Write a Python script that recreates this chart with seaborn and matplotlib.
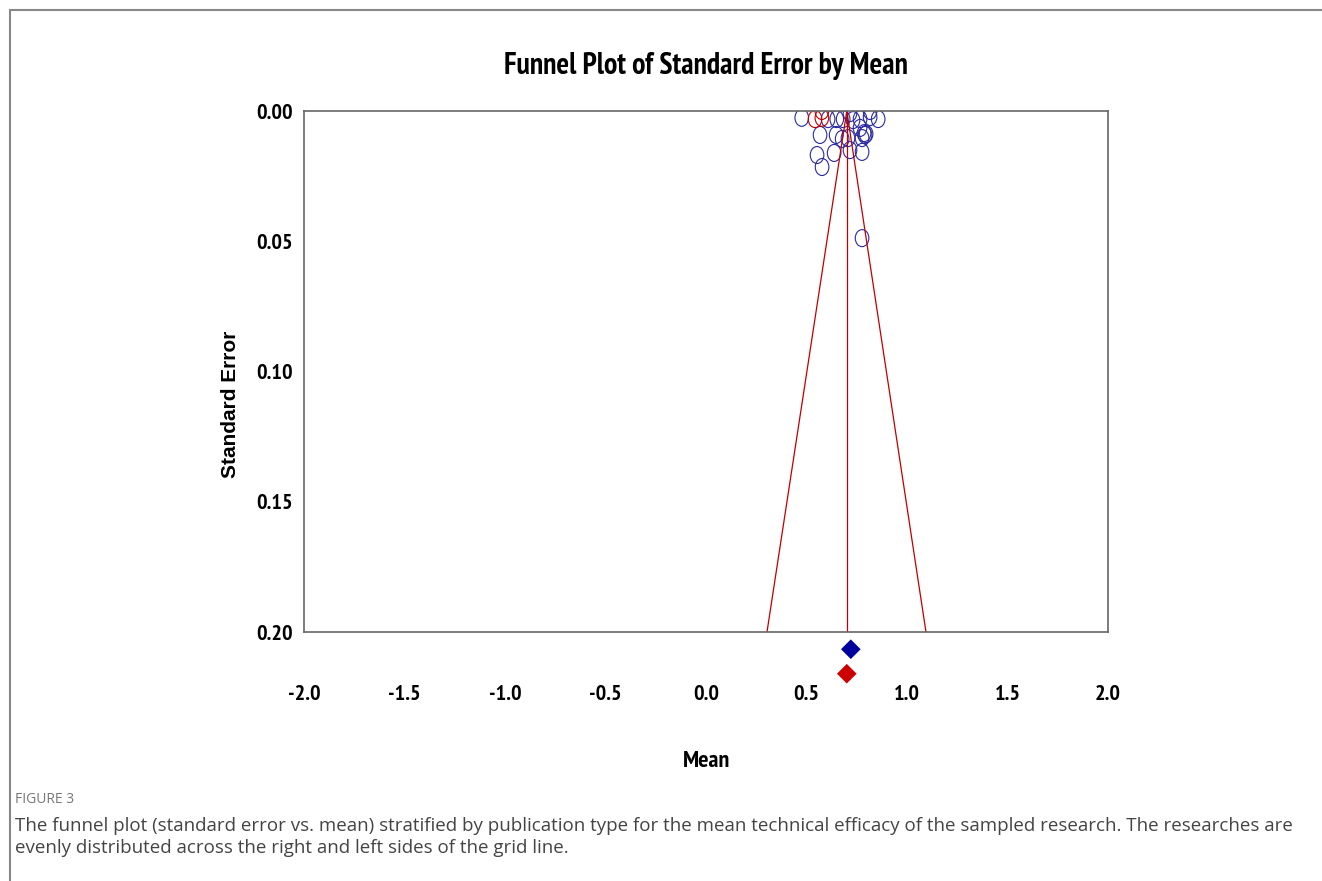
import matplotlib
matplotlib.use("Agg")
import matplotlib.pyplot as plt
from matplotlib.lines import Line2D
from matplotlib.path import Path
import numpy as np
import pandas as pd
import seaborn as sns

# studies: mean effect and standard error
blue_mean = [0.476, 0.607, 0.650, 0.682, 0.716, 0.731, 0.766, 0.816, 0.816, 0.856,
             0.567, 0.647, 0.677, 0.706, 0.766, 0.786, 0.791, 0.796, 0.776,
             0.552, 0.577, 0.637, 0.716, 0.776, 0.776]
blue_se = [0.0026, 0.0031, 0.0031, 0.0031, 0.0008, 0.0035, 0.0031, 0.0000, 0.0023, 0.0031,
           0.0092, 0.0092, 0.0107, 0.0104, 0.0065, 0.0085, 0.0092, 0.0088, 0.0104,
           0.0169, 0.0215, 0.0161, 0.0150, 0.0157, 0.0488]
red_mean = [0.542, 0.576, 0.576]
red_se = [0.0031, 0.0000, 0.0026]

# funnel (pooled mean and 95% limits)
funnel_mean = [0.303, 0.700, 1.094]
funnel_se = [0.200, 0.000, 0.200]
pooled_mean = 0.700

# summary diamonds below the axis
summary_mean = [0.720, 0.700]
summary_se = [0.2066, 0.2160]
summary_group = ["blue", "red"]

colors = {"blue": "#2a2aa0", "red": "#c00000"}
diamond_colors = {"blue": "#00009c", "red": "#cc0000"}

df = pd.DataFrame({
    "mean": blue_mean + red_mean,
    "se": blue_se + red_se,
    "group": ["blue"] * len(blue_mean) + ["red"] * len(red_mean),
})
summary = pd.DataFrame({"mean": summary_mean, "se": summary_se, "group": summary_group})

sns.set_style("white")
narrow = ["PT Sans Narrow", "Roboto Condensed", "Barlow Condensed", "DejaVu Sans"]
plt.rcParams["font.family"] = narrow
plt.rcParams["text.color"] = "black"
plt.rcParams["xtick.color"] = "black"
plt.rcParams["ytick.color"] = "black"
plt.rcParams["axes.labelcolor"] = "black"

fig = plt.figure(figsize=(13.22, 8.81), dpi=100)
ax = fig.add_axes([0.2300, 0.2826, 0.6082, 0.5914])

# vertically stretched circle marker
circ = Path.unit_circle()
ellipse = Path(circ.vertices * np.array([0.8, 1.0]), circ.codes)

sns.lineplot(x=funnel_mean, y=funnel_se, sort=False, color="#c00000", lw=0.9, ax=ax)
ax.plot([pooled_mean, pooled_mean], [0, 0.2], color="#c00000", lw=0.9)

sns.scatterplot(data=df, x="mean", y="se", hue="group", palette=colors, marker=ellipse,
                s=150, linewidth=0.8, legend=False, ax=ax)
for c in ax.collections:
    c.set_facecolor("none")
    c.set_edgecolor([colors[g] for g in df["group"]])

sns.scatterplot(data=summary, x="mean", y="se", hue="group", palette=diamond_colors,
                marker="D", s=100, linewidth=0, legend=False, ax=ax, clip_on=False)

ax.set_xlim(-2.0, 2.0)
ax.set_ylim(0.2, 0.0)
ax.set_xticks(np.arange(-2.0, 2.01, 0.5))
ax.set_xticklabels([f"{v:.1f}" for v in np.arange(-2.0, 2.01, 0.5)])
ax.set_yticks([0.0, 0.05, 0.10, 0.15, 0.20])
ax.set_yticklabels(["0.00", "0.05", "0.10", "0.15", "0.20"])
ax.tick_params(axis="x", direction="inout", length=8, width=0.9, color="#666666",
               pad=34, labelsize=16)
ax.tick_params(axis="y", length=0, pad=8, labelsize=16)
for lab in ax.get_xticklabels() + ax.get_yticklabels():
    lab.set_fontweight("bold")
for sp in ax.spines.values():
    sp.set_color("#666666")
    sp.set_linewidth(1.2)

ax.set_xlabel("Mean", fontsize=17.5, fontweight="bold", labelpad=34)
ax.set_ylabel("Standard Error", fontsize=15, fontweight="bold",
              family=["Liberation Sans", "DejaVu Sans"])
ax.yaxis.set_label_coords(-0.08, 0.4376)
ax.set_title("Funnel Plot of Standard Error by Mean", fontsize=21.5, fontweight="bold", pad=27)

# page frame and caption
fig.add_artist(Line2D([0.0075, 1.0], [0.989, 0.989], color="#888888", lw=1.5))
fig.add_artist(Line2D([0.0075, 0.0075], [0.0, 0.989], color="#888888", lw=1.5))
fig.text(0.0115, 0.092, "FIGURE 3", fontsize=10, color="#777777",
         family=["Open Sans", "DejaVu Sans"], va="center")
fig.text(0.0115, 0.062,
         "The funnel plot (standard error vs. mean) stratified by publication type for the mean "
         "technical efficacy of the sampled research. The researches are",
         fontsize=13.5, color="#444444", family=["Open Sans", "DejaVu Sans"], va="center")
fig.text(0.0115, 0.037, "evenly distributed across the right and left sides of the grid line.",
         fontsize=13.5, color="#444444", family=["Open Sans", "DejaVu Sans"], va="center")

fig.savefig("out.png", dpi=100)
